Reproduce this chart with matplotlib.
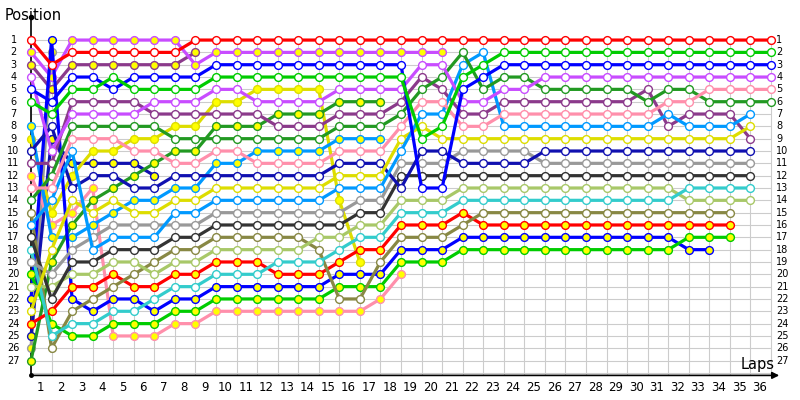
import matplotlib
matplotlib.use("Agg")
import matplotlib.pyplot as plt

# position of every car at the end of each lap (index 0 = grid)
red = [1, 3, 2, 2, 2, 2, 2, 2] + [1] * 29
green = [6, 7, 5, 5, 4, 5, 5, 5, 5] + [4] * 10 + [9, 8, 4, 3] + [2] * 14
blue = [5, 6, 4, 4, 5, 4, 4, 4, 4] + [3] * 10 + [13, 13, 5, 4] + [3] * 14
violet = [4, 10, 7, 7, 7, 7, 6, 6, 6, 5, 5, 6, 6, 6, 6, 5, 5, 5, 5, 3, 3, 6, 6, 5, 5] + [4] * 12
pink = [13, 13, 9, 9, 9, 10, 10, 11, 11, 10, 10, 11, 11, 11, 11, 10, 10, 10, 8, 6, 6, 8, 8,
        7, 7, 7, 7, 7, 7, 7, 7, 6, 6, 5, 5, 5, 5]
dkgreen = [14, 12, 8, 8, 8, 8, 8, 9, 9, 9, 9, 9, 9, 9, 9, 8, 8, 8, 7, 5, 4, 2, 5, 4, 4,
           5, 5, 5, 5, 5, 6, 5, 5, 6, 6, 6, 6]
lblue = [16, 14, 10, 18, 17, 17, 17, 15, 15, 14, 14, 14, 14, 14, 14, 13, 13, 13, 10, 7, 7, 3, 2,
         8, 8, 8, 8, 8, 8, 8, 8, 7, 8, 8, 8, 7]
yellow = [23, 18, 14, 15, 14, 15, 15, 14, 14, 13, 13, 13, 13, 13, 13, 12, 12, 12, 9, 8] + [9] * 15 + [8]
purple = [11, 11, 6, 6, 6, 6, 7, 7, 7, 7, 7, 7, 8, 8, 8, 7, 7, 7, 6, 4, 5, 7, 7,
          6, 6, 6, 6, 6, 6, 6, 5, 8, 7, 7, 7, 9]
navy = [10, 8, 13, 12, 12, 13, 13, 12, 12, 12, 12, 12, 12, 12, 12, 11, 11, 11, 13, 10, 10,
        11, 11, 11, 11] + [10] * 11
gray = [19, 20, 18, 17, 16, 16, 16, 16, 16] + [15] * 7 + [14, 14, 11, 11, 11, 10, 10, 10, 10] + [11] * 11
dkgray = [17, 22, 19, 19, 18, 18, 18, 17, 17] + [16] * 7 + [15, 15] + [12] * 18
cyan = [18, 25, 24, 24, 23, 23, 22, 21, 21, 20, 20, 20, 19, 19, 19, 18, 17, 17, 15, 15, 15] + [14] * 11 + [13] * 4
lolive = [21, 21, 20, 20, 19, 19, 20, 19, 19, 18, 18, 18, 18, 18, 17, 17, 16, 16, 14, 14, 14] + [13] * 11 + [14] * 4
olive = [15, 26, 23, 22, 21, 20, 19, 18, 18, 17, 17, 17, 17, 17, 18, 22, 22, 19, 17, 17, 17, 16] + [15] * 13
red_y = [24, 23, 21, 21, 20, 21, 21, 20, 20, 19, 19, 19, 20, 20, 20, 19, 18, 18, 16, 16, 16, 15] + [16] * 13
blue_y = [22, 1, 22, 23, 22, 22, 23, 22, 22, 21, 21, 21, 21, 21, 21, 20, 20, 20, 18, 18, 18] + [17] * 11 + [18, 18]
green_y = [20, 24, 25, 25, 24, 24, 24, 23, 23, 22, 22, 22, 22, 22, 22, 21, 21, 21, 19, 19, 19] + [18] * 11 + [17] * 3
violet_y = [2, 4, 1, 1, 1, 1, 1, 1, 3] + [2] * 12
purple_y = [3, 5, 3, 3, 3, 3, 3, 3, 2]
dkgreen_y = [27, 19, 16, 14, 13, 12, 11, 10, 10, 8, 8, 8, 7, 7, 7, 6, 6, 6]
lblue_y = [8, 17, 17, 16, 15, 14, 14, 13, 13, 11, 11, 10, 10, 10, 10, 9, 9, 9]
yellow_y = [9, 15, 12, 10, 10, 9, 9, 8, 8, 6, 6, 5, 5, 5, 5, 14, 19]
pink_y = [12, 16, 15, 13, 25, 25, 25, 24, 24, 23, 23, 23, 23, 23, 23, 23, 23, 22, 20]
navy_y = [25, 9, 11, 11, 11, 11, 12]
gray_y = [26, 2]

n_laps = 36
n_pos = 27

# (data, line colour, yellow fill)
series = [
    (gray_y, "#999999", True), (navy_y, "#1010b0", True), (purple_y, "#8b3a8b", True),
    (pink_y, "#ff8fab", True), (yellow_y, "#dddd00", True), (lblue_y, "#0099ff", True),
    (dkgreen_y, "#229922", True), (violet_y, "#c84cff", True),
    (blue_y, "#0000ff", True), (green_y, "#00cc00", True), (red_y, "#ff0000", True),
    (olive, "#888844", False), (lolive, "#a8c868", False), (cyan, "#33cccc", False),
    (dkgray, "#333333", False), (gray, "#999999", False), (navy, "#1010b0", False),
    (purple, "#8b3a8b", False), (yellow, "#dddd00", False), (lblue, "#0099ff", False),
    (dkgreen, "#229922", False), (pink, "#ff8fab", False), (violet, "#c84cff", False),
    (blue, "#0000ff", False), (green, "#00cc00", False), (red, "#ff0000", False),
]

fig = plt.figure(figsize=(8, 4), dpi=100)
ax = fig.add_axes([31 / 800, 24.6 / 400, 748 / 800, 360 / 400])
ax.set_xlim(0, 36.39)
ax.set_ylim(28.2, -1.0)
ax.axis("off")

# grid
ax.vlines(range(0, n_laps + 1), 1, 28.2, color="#cccccc", lw=0.8, zorder=0)
ax.hlines(range(1, n_pos + 2), 0, n_laps, color="#cccccc", lw=0.8, zorder=0)

# axes lines (under the series)
ax.plot([0, 0], [28.2, -0.85], color="black", lw=1.2, clip_on=False, zorder=1)
ax.plot([0], [-0.85], "o", color="black", ms=3, clip_on=False, zorder=1)
ax.plot([0], [28.2], "o", color="black", ms=2.5, clip_on=False, zorder=1)
ax.annotate("", xy=(36.4, 28.2), xytext=(0, 28.2),
            arrowprops=dict(arrowstyle="-|>", color="black", lw=1.2,
                            mutation_scale=10, shrinkA=0, shrinkB=0),
            annotation_clip=False, zorder=1)

for data, col, filled in series:
    ax.plot(range(len(data)), data, color=col, lw=2.3, marker="o", ms=5.6,
            mfc="#ffff00" if filled else "white", mec=col, mew=1.0,
            solid_joinstyle="miter", clip_on=False, zorder=2)

# tick labels
for p in range(1, n_pos + 1):
    ax.text(-0.85, p, str(p), ha="center", va="center", fontsize=7, clip_on=False)
    ax.text(36.25, p, str(p), ha="left", va="center", fontsize=7, clip_on=False)
for k in range(1, n_laps + 1):
    ax.text(k - 0.55, 29.2, str(k), ha="center", va="center", fontsize=8.5, clip_on=False)

fig.text(5 / 800, 1 - 15 / 400, "Position", ha="left", va="center", fontsize=10.5)
fig.text(758 / 800, 1 - 364 / 400, "Laps", ha="center", va="center", fontsize=10.5)

fig.savefig("out.png", dpi=100)
